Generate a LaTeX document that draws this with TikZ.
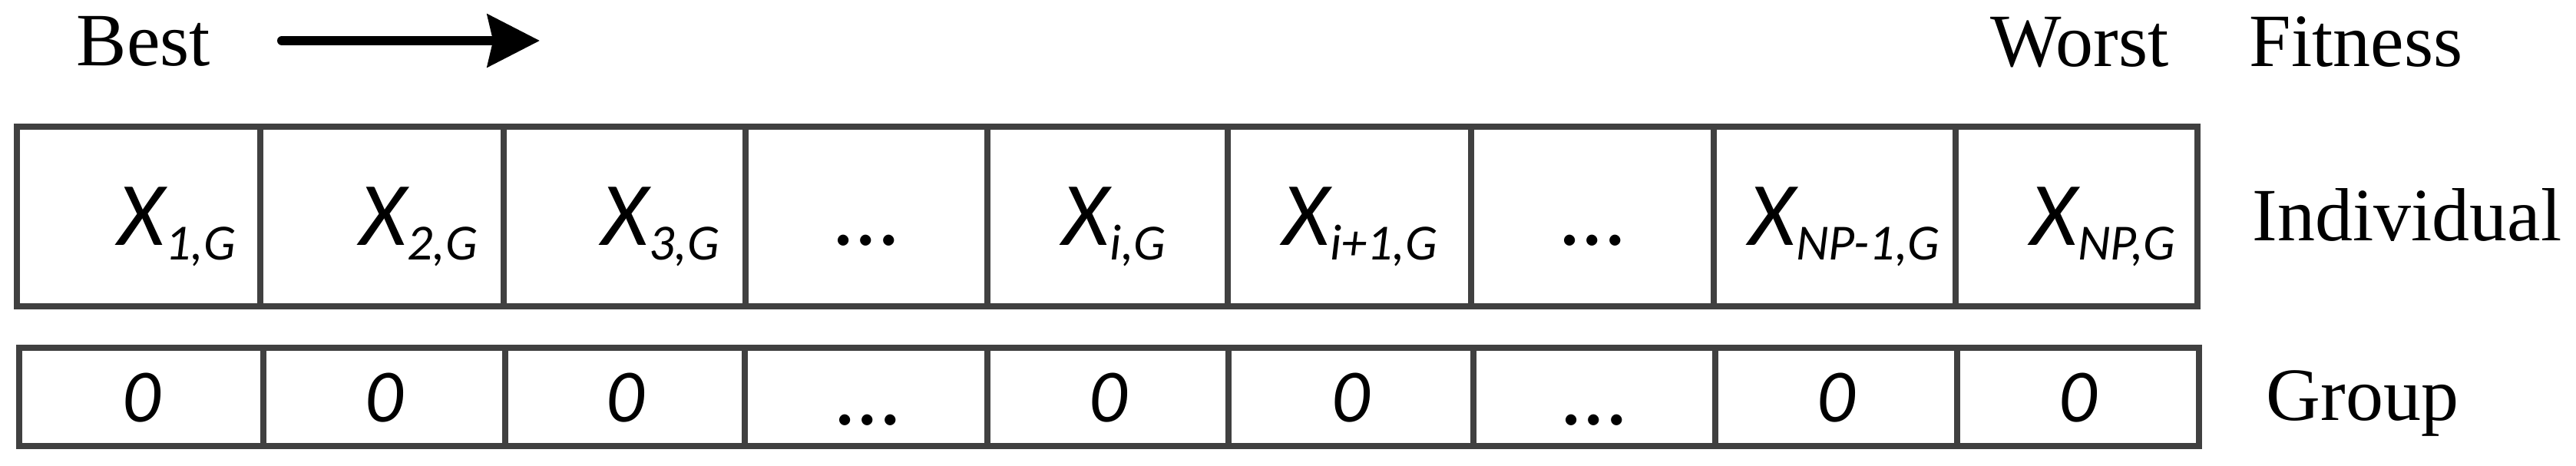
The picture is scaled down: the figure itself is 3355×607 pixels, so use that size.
\documentclass[tikz,border=0pt]{standalone}
\usepackage{fontspec}
\setmainfont{Liberation Serif}
\newfontfamily\calfont{Carlito}
\usetikzlibrary{arrows.meta,fit}
\definecolor{boxgray}{HTML}{404040}
\newcommand{\bigX}{\calfont\itshape\fontsize{29.5}{30}\selectfont}
\newcommand{\subX}{\calfont\itshape\fontsize{16.5}{17}\selectfont}
\newcommand{\xlab}[1]{{\bigX X}\raisebox{-4.75pt}{\subX #1}}
\tikzset{
  cellbox/.style={draw=boxgray, line width=2.1pt, inner sep=0pt, rectangle},
  lbl/.style={anchor=base west, inner sep=0pt, font=\fontsize{24.5}{25}\selectfont},
  xl/.style={anchor=base west, inner sep=0pt},
  zero/.style={anchor=base, inner sep=0pt, font=\calfont\itshape\fontsize{24.5}{25}\selectfont},
  dotsl/.style={anchor=base, inner sep=0pt, font=\calfont\fontsize{29.5}{30}\selectfont},
}
\begin{document}
\begin{tikzpicture}[x=0.25pt, y=-0.25pt]
\useasboundingbox (0,0) rectangle (3355,607);
% header
\node[lbl] (best) at (99,86) {Best};
\coordinate (arrS) at (367,53);
\coordinate (arrE) at (703,53);
\draw[line width=3pt, line cap=round, -{Stealth[length=17pt,width=17pt,inset=1.8pt]}] (arrS) -- (arrE);
\node[lbl] (worst) at (2592,87) {Worst};
\node[lbl] (fitness) at (2929,87) {Fitness};
\node[lbl] (indiv) at (2933,314) {Individual};
\node[lbl] (group) at (2951,548) {Group};
% individual row
\foreach \i/\a/\b in {1/22/339, 2/339/656, 3/656/971, 4/971/1286, 5/1286/1599, 6/1599/1916, 7/1916/2232, 8/2232/2547, 9/2547/2862}
  \node[cellbox, fit={(\a,165) (\b,399)}] (c\i) {};
% group row
\foreach \i/\a/\b in {1/25/343, 2/343/658, 3/658/970, 4/970/1286, 5/1286/1600, 6/1600/1919, 7/1919/2234, 8/2234/2549, 9/2549/2864}
  \node[cellbox, fit={(\a,453) (\b,581)}] (g\i) {};
% individual labels
\node[xl] (x1) at (153,320) {\xlab{1,G}};
\node[xl] (x2) at (468,320) {\xlab{2,G}};
\node[xl] (x3) at (783,320) {\xlab{3,G}};
\node[dotsl] (d1) at (1128,320) {…};
\node[xl] (xi) at (1383,320) {\xlab{i,G}};
\node[xl] (xi1) at (1670,320) {\xlab{i+1,G}};
\node[dotsl] (d2) at (2074,320) {…};
\node[xl] (xnp1) at (2277,320) {\xlab{NP-1,G}};
\node[xl] (xnp) at (2644,320) {\xlab{NP,G}};
% group labels
\node[zero] (z1) at (184,550) {0};
\node[zero] (z2) at (500,550) {0};
\node[zero] (z3) at (814,550) {0};
\node[dotsl] (gd1) at (1130,554) {…};
\node[zero] (z5) at (1443,550) {0};
\node[zero] (z6) at (1759,550) {0};
\node[dotsl] (gd2) at (2076,554) {…};
\node[zero] (z8) at (2391,550) {0};
\node[zero] (z9) at (2706,550) {0};
\end{tikzpicture}
\end{document}
